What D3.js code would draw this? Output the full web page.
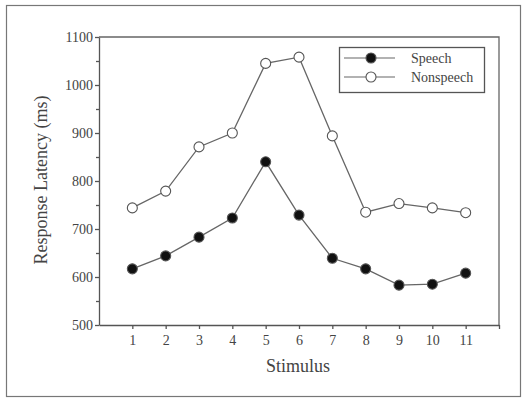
<!DOCTYPE html>
<html>
<head>
<meta charset="utf-8">
<script src="https://cdn.jsdelivr.net/npm/d3@7"></script>
<style>
  body { margin: 0; background: #fff; }
  svg { display: block; }
</style>
</head>
<body>
<div id="chart"></div>
<script>
// values
var stimuli = [1, 2, 3, 4, 5, 6, 7, 8, 9, 10, 11];
var speech = [617, 644, 683, 723, 840, 729, 639, 617, 583, 585, 608];
var nonspeech = [744, 779, 871, 900, 1045, 1058, 894, 735, 753, 744, 734];
var yTicks = [500, 600, 700, 800, 900, 1000, 1100];
var yMinor = [550, 650, 750, 850, 950, 1050];
var seriesNames = ["Speech", "Nonspeech"];

var width = 528, height = 399;
var font = "'Liberation Serif', 'Times New Roman', serif";
var ink = "#444";

var svg = d3.select("#chart").append("svg")
    .attr("width", width).attr("height", height);

// outer frame
svg.append("rect").attr("x", 6.5).attr("y", 5.5).attr("width", 514).attr("height", 391)
    .attr("fill", "none").attr("stroke", "#777").attr("stroke-width", 1.2);

var x = d3.scaleLinear().domain([0, 12]).range([99, 499]);
var y = d3.scaleLinear().domain([500, 1100]).range([325, 37]);

var g = svg.append("g");

// plot box (top + right)
g.append("path")
    .attr("d", "M" + x(0) + "," + y(1100) + "H" + x(12) + "V" + y(500))
    .attr("fill", "none").attr("stroke", "#666").attr("stroke-width", 1.3);

// y axis
g.append("g").attr("transform", "translate(" + x(0) + ",0)")
    .call(d3.axisLeft(y).tickValues(yTicks).tickSize(4).tickPadding(2).tickSizeOuter(0)
        .tickFormat(d3.format("d")));
g.append("g").attr("transform", "translate(" + x(0) + ",0)")
    .call(d3.axisLeft(y).tickValues(yMinor).tickSize(3).tickFormat(""))
    .select(".domain").remove();

// x axis
g.append("g").attr("transform", "translate(0," + y(500) + ")")
    .call(d3.axisBottom(x).tickValues(stimuli.concat([12])).tickSize(4).tickPadding(6)
        .tickSizeOuter(0).tickFormat(function(d){ return d === 12 ? "" : d; }));

g.selectAll(".domain, .tick line").attr("stroke", "#555").attr("stroke-width", 1.3);
g.selectAll(".tick text").attr("fill", ink).style("font-family", font).style("font-size", "14px");

// axis titles
svg.append("text").attr("x", 298).attr("y", 372).attr("text-anchor", "middle")
    .style("font-family", font).style("font-size", "18px").attr("fill", ink).text("Stimulus");
svg.append("text").attr("transform", "translate(47,180) rotate(-90)").attr("text-anchor", "middle")
    .style("font-family", font).style("font-size", "18px").attr("fill", ink).text("Response Latency (ms)");

// series
var line = d3.line().x(function(d, i){ return x(stimuli[i]); }).y(function(d){ return y(d); });
var data = [
  { name: seriesNames[0], values: speech, fill: "#111" },
  { name: seriesNames[1], values: nonspeech, fill: "#fff" }
];

data.forEach(function(s) {
  g.append("path").datum(s.values).attr("d", line)
      .attr("fill", "none").attr("stroke", "#666").attr("stroke-width", 1.3);
  g.selectAll(null).data(s.values).enter().append("circle")
      .attr("cx", function(d, i){ return x(stimuli[i]); })
      .attr("cy", function(d){ return y(d); })
      .attr("r", 5)
      .attr("fill", s.fill).attr("stroke", "#555").attr("stroke-width", 1.1);
});

// legend
var lg = svg.append("g").attr("transform", "translate(339,47)");
lg.append("rect").attr("x", 0.5).attr("y", 0.5).attr("width", 145).attr("height", 45)
    .attr("fill", "#fff").attr("stroke", "#555").attr("stroke-width", 1.3);
data.forEach(function(s, i) {
  var ly = 11 + i * 19;
  lg.append("line").attr("x1", 5).attr("x2", 56).attr("y1", ly).attr("y2", ly)
      .attr("stroke", "#666").attr("stroke-width", 1.2);
  lg.append("circle").attr("cx", 32).attr("cy", ly).attr("r", 5)
      .attr("fill", s.fill).attr("stroke", "#555").attr("stroke-width", 1.1);
  lg.append("text").attr("x", 72).attr("y", ly + 4.5)
      .style("font-family", font).style("font-size", "14px").attr("fill", ink).text(s.name);
});
</script>
</body>
</html>
